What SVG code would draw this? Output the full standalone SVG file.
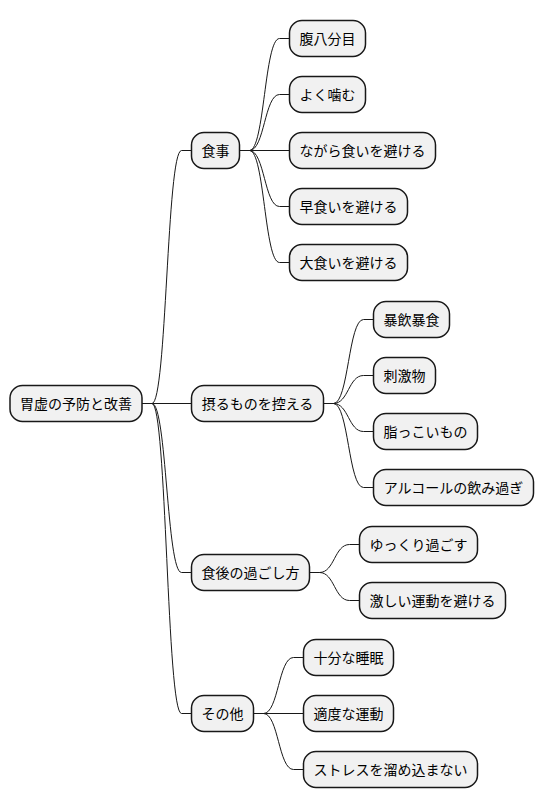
<svg xmlns="http://www.w3.org/2000/svg" width="544" height="809" viewBox="0 0 544 809">
<style>
.n rect{fill:#F1F1F1;stroke:#181818;stroke-width:1.5}
.n text{font-family:"Noto Sans CJK JP","Noto Sans",sans-serif;font-size:14px;fill:#000;text-anchor:middle}
#edges path{fill:none;stroke:#181818;stroke-width:1}
</style>
<rect width="544" height="809" fill="#FFFFFF"/>
<g id="edges">
<path d="M142,403.5 L152,403.5 C166.75,403.5 166.75,150.5 181.5,150.5 L191.5,150.5"/>
<path d="M142,403.5 L191.5,403.5"/>
<path d="M142,403.5 L152,403.5 C166.75,403.5 166.75,572.5 181.5,572.5 L191.5,572.5"/>
<path d="M142,403.5 L152,403.5 C166.75,403.5 166.75,713.5 181.5,713.5 L191.5,713.5"/>
<path d="M239.5,150.5 L249.5,150.5 C264.5,150.5 264.5,38.5 279.5,38.5 L289.5,38.5"/>
<path d="M239.5,150.5 L249.5,150.5 C264.5,150.5 264.5,94.5 279.5,94.5 L289.5,94.5"/>
<path d="M239.5,150.5 L289.5,150.5"/>
<path d="M239.5,150.5 L249.5,150.5 C264.5,150.5 264.5,206.5 279.5,206.5 L289.5,206.5"/>
<path d="M239.5,150.5 L249.5,150.5 C264.5,150.5 264.5,262.5 279.5,262.5 L289.5,262.5"/>
<path d="M323.5,403.5 L333.5,403.5 C348.5,403.5 348.5,319.5 363.5,319.5 L373.5,319.5"/>
<path d="M323.5,403.5 L333.5,403.5 C348.5,403.5 348.5,375.5 363.5,375.5 L373.5,375.5"/>
<path d="M323.5,403.5 L333.5,403.5 C348.5,403.5 348.5,431.5 363.5,431.5 L373.5,431.5"/>
<path d="M323.5,403.5 L333.5,403.5 C348.5,403.5 348.5,487.5 363.5,487.5 L373.5,487.5"/>
<path d="M309.5,572.5 L319.5,572.5 C334.5,572.5 334.5,544.5 349.5,544.5 L359.5,544.5"/>
<path d="M309.5,572.5 L319.5,572.5 C334.5,572.5 334.5,600.5 349.5,600.5 L359.5,600.5"/>
<path d="M253.5,713.5 L263.5,713.5 C278.5,713.5 278.5,657.5 293.5,657.5 L303.5,657.5"/>
<path d="M253.5,713.5 L303.5,713.5"/>
<path d="M253.5,713.5 L263.5,713.5 C278.5,713.5 278.5,769.5 293.5,769.5 L303.5,769.5"/>
</g>
<g id="root" class="n"><rect x="10" y="385.5" width="132" height="36" rx="12.5"/><text x="76" y="408.5">胃虚の予防と改善</text></g>
<g id="shokuji" class="n"><rect x="191.5" y="132.5" width="48" height="36" rx="12.5"/><text x="215.5" y="155.5">食事</text></g>
<g id="toru" class="n"><rect x="191.5" y="385.5" width="132" height="36" rx="12.5"/><text x="257.5" y="408.5">摂るものを控える</text></g>
<g id="shokugo" class="n"><rect x="191.5" y="554.5" width="118" height="36" rx="12.5"/><text x="250.5" y="577.5">食後の過ごし方</text></g>
<g id="sonota" class="n"><rect x="191.5" y="695.5" width="62" height="36" rx="12.5"/><text x="222.5" y="718.5">その他</text></g>
<g id="hara" class="n"><rect x="289.5" y="20.5" width="76" height="36" rx="12.5"/><text x="327.5" y="43.5">腹八分目</text></g>
<g id="kamu" class="n"><rect x="289.5" y="76.5" width="76" height="36" rx="12.5"/><text x="327.5" y="99.5">よく噛む</text></g>
<g id="nagara" class="n"><rect x="289.5" y="132.5" width="146" height="36" rx="12.5"/><text x="362.5" y="155.5">ながら食いを避ける</text></g>
<g id="hayagui" class="n"><rect x="289.5" y="188.5" width="118" height="36" rx="12.5"/><text x="348.5" y="211.5">早食いを避ける</text></g>
<g id="ooigui" class="n"><rect x="289.5" y="244.5" width="118" height="36" rx="12.5"/><text x="348.5" y="267.5">大食いを避ける</text></g>
<g id="bouin" class="n"><rect x="373.5" y="301.5" width="76" height="36" rx="12.5"/><text x="411.5" y="324.5">暴飲暴食</text></g>
<g id="shigeki" class="n"><rect x="373.5" y="357.5" width="62" height="36" rx="12.5"/><text x="404.5" y="380.5">刺激物</text></g>
<g id="abura" class="n"><rect x="373.5" y="413.5" width="104" height="36" rx="12.5"/><text x="425.5" y="436.5">脂っこいもの</text></g>
<g id="alcohol" class="n"><rect x="373.5" y="469.5" width="160" height="36" rx="12.5"/><text x="453.5" y="492.5">アルコールの飲み過ぎ</text></g>
<g id="yukkuri" class="n"><rect x="359.5" y="526.5" width="118" height="36" rx="12.5"/><text x="418.5" y="549.5">ゆっくり過ごす</text></g>
<g id="hageshii" class="n"><rect x="359.5" y="582.5" width="146" height="36" rx="12.5"/><text x="432.5" y="605.5">激しい運動を避ける</text></g>
<g id="suimin" class="n"><rect x="303.5" y="639.5" width="90" height="36" rx="12.5"/><text x="348.5" y="662.5">十分な睡眠</text></g>
<g id="undou" class="n"><rect x="303.5" y="695.5" width="90" height="36" rx="12.5"/><text x="348.5" y="718.5">適度な運動</text></g>
<g id="stress" class="n"><rect x="303.5" y="751.5" width="174" height="36" rx="12.5"/><text x="390.5" y="774.5">ストレスを溜め込まない</text></g>
</svg>
